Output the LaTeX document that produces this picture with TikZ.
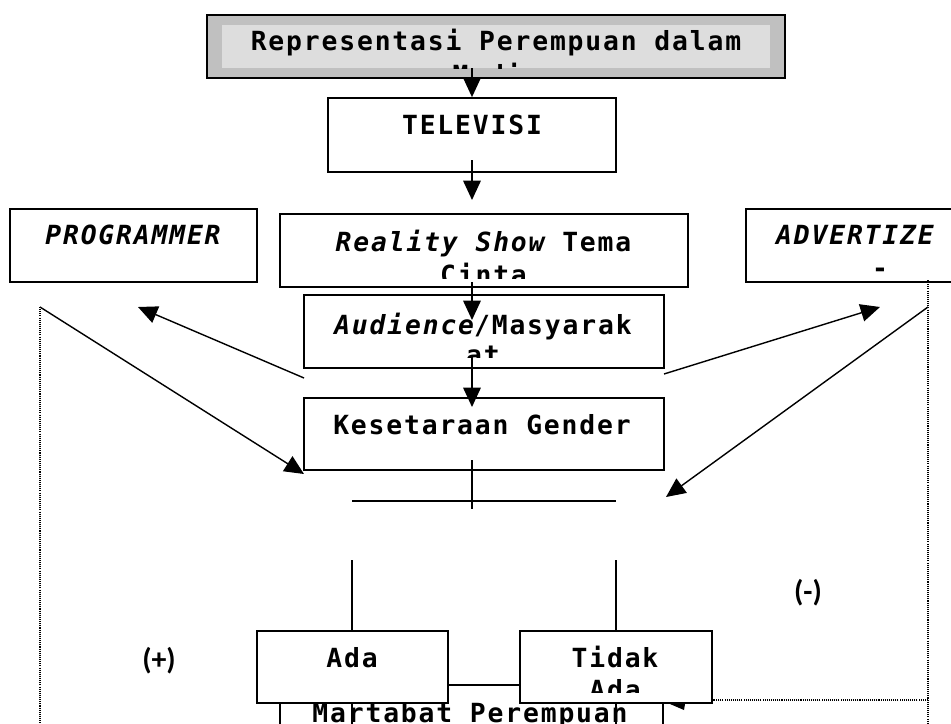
\documentclass[tikz,border=0pt]{standalone}
\usepackage{fontspec}
\setmonofont{DejaVu Sans Mono}[LetterSpace=7]
\newfontfamily\tanda{Carlito}
\usetikzlibrary{arrows.meta}

\definecolor{abu}{HTML}{C0C0C0}
\definecolor{abumuda}{HTML}{DDDDDD}

\tikzset{
  kotak/.style={draw, line width=1pt, fill=white, inner sep=0pt},
  tulisan/.style={font=\ttfamily\bfseries\fontsize{15}{18}\selectfont, inner sep=0pt, anchor=base},
  tandatulis/.style={font=\tanda\bfseries\fontsize{17}{20}\selectfont, inner sep=0pt, anchor=base},
  panah/.style={line width=0.8pt, -{Triangle[length=11pt,width=10pt]}},
  garis/.style={line width=0.8pt},
  titik/.style={line width=0.7pt, dash pattern=on 0.6pt off 0.6pt}
}

\begin{document}
\begin{tikzpicture}[x=0.02cm, y=-0.02cm]
    \useasboundingbox (0,0) rectangle (951,724);

    % judul
    \node[kotak, fill=abu, minimum width=11.56cm, minimum height=1.26cm] (judul) at (496,46.5) {};
    \node[fill=abumuda, inner sep=0pt, minimum width=10.96cm, minimum height=0.86cm] (judulDalam) at (496,46.5) {};
    \begin{scope}
        \clip (judulDalam.north west) rectangle (judulDalam.south east);
        \node[tulisan] (tJudul) at (496,50) {Representasi Perempuan dalam};
        \node[tulisan] (tJudulB) at (496,84) {Media};
    \end{scope}

    % kotak-kotak
    \node[kotak, minimum width=5.76cm, minimum height=1.48cm] (tv) at (472,135) {};
    \node[kotak, minimum width=4.94cm, minimum height=1.46cm] (prog) at (133.5,245.5) {};
    \node[kotak, minimum width=8.16cm, minimum height=1.46cm] (reality) at (484,250.5) {};
    \node[kotak, minimum width=4.38cm, minimum height=1.46cm] (iklan) at (855.5,245.5) {};
    \node[kotak, minimum width=7.2cm, minimum height=1.46cm] (audiens) at (484,331.5) {};
    \node[kotak, minimum width=7.2cm, minimum height=1.44cm] (gender) at (484,434) {};

    % martabat (tertutup kotak ada / tidak ada)
    \node[kotak, minimum width=7.66cm, minimum height=1.48cm] (martabat) at (471.5,722) {};
    \node[tulisan] (tMartabat) at (470,722) {Martabat Perempuan};

    % garis cabang
    \coordinate (g1) at (472,460);
    \coordinate (g2) at (472,509);
    \coordinate (h1) at (352,501);
    \coordinate (h2) at (616,501);
    \coordinate (v1) at (352,560);
    \coordinate (v2) at (616,560);
    \coordinate (v1b) at (352,724);
    \coordinate (v2b) at (616,724);
    \draw[garis] (g1) -- (g2);
    \draw[garis] (h1) -- (h2);
    \draw[garis] (v1) -- (v1b);
    \draw[garis] (v2) -- (v2b);

    \node[kotak, minimum width=3.82cm, minimum height=1.44cm] (ada) at (352.5,667) {};
    \node[kotak, minimum width=3.84cm, minimum height=1.44cm] (tidak) at (616,667) {};

    % tulisan dalam kotak
    \node[tulisan] (tTv) at (472,134) {TELEVISI};
    \node[tulisan] (tProg) at (133,244) {\itshape PROGRAMMER};
    \node[tulisan] (tIklan) at (855,244) {\itshape ADVERTIZE};
    \node[tulisan] (tIklanB) at (880,277) {-};
    \begin{scope}
        \clip (282,216) rectangle (686,278);
        \node[tulisan] (tReality) at (483.5,251) {{\itshape Reality Show} Tema};
        \node[tulisan] (tRealityB) at (483.5,284) {Cinta};
    \end{scope}
    \begin{scope}
        \clip (306,297) rectangle (662,357);
        \node[tulisan] (tAudiens) at (483,334) {{\itshape Audience}/Masyarak};
        \node[tulisan] (tAudiensB) at (483,364) {at};
    \end{scope}
    \node[tulisan] (tGender) at (482,434) {Kesetaraan Gender};
    \node[tulisan] (tAda) at (352,667) {Ada};
    \begin{scope}
        \clip (522,633) rectangle (710,692);
        \node[tulisan] (tTidak) at (615,667) {Tidak};
        \node[tulisan] (tTidakB) at (615,699) {Ada};
    \end{scope}

    \node[tandatulis] (plus) at (159,669) {(+)};
    \node[tandatulis] (minus) at (808,601) {(-)};

    % panah tengah
    \coordinate (j1) at (472,68);
    \coordinate (t1) at (472,160);
    \coordinate (t2) at (472,200);
    \coordinate (r1) at (472,282);
    \coordinate (r2) at (472,320);
    \coordinate (a1) at (472,357);
    \coordinate (a2) at (472,407);
    \draw[panah] (j1) -- (tv.north);
    \draw[panah] (t1) -- (t2);
    \draw[panah] (r1) -- (r2);
    \draw[panah] (a1) -- (a2);

    % panah samping
    \coordinate (kiriA) at (304,378);
    \coordinate (kiriB) at (138,307);
    \coordinate (kiriC) at (40,307);
    \coordinate (kiriD) at (304,474);
    \coordinate (kananA) at (664,374);
    \coordinate (kananB) at (880,307);
    \coordinate (kananC) at (928,307);
    \coordinate (kananD) at (666,497);
    \draw[panah] (kiriA) -- (kiriB);
    \draw[panah] (kiriC) -- (kiriD);
    \draw[panah] (kananA) -- (kananB);
    \draw[panah] (kananC) -- (kananD);

    % garis titik-titik
    \coordinate (kiriE) at (40,724);
    \coordinate (kananE) at (928,280);
    \coordinate (kananF) at (928,724);
    \coordinate (kananG) at (928,700);
    \draw[titik] (kiriC) -- (kiriE);
    \draw[titik] (kananE) -- (kananF);
    \draw[titik] (kananG) -- (tidak.south east |- kananG);
    \fill (670,704) -- (685,704) -- (684,710) -- cycle;
\end{tikzpicture}
\end{document}
